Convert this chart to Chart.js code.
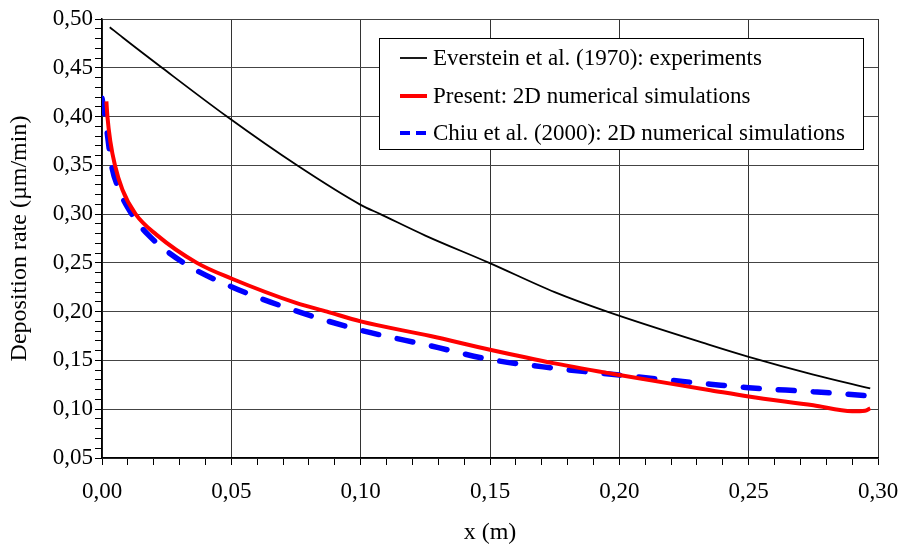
<!DOCTYPE html>
<html>
<head>
<meta charset="utf-8">
<script src="https://cdn.jsdelivr.net/npm/chart.js@4/dist/chart.umd.min.js"></script>
<style>
  html, body { margin: 0; padding: 0; background: #fff; }
  #wrap { width: 903px; height: 547px; }
</style>
</head>
<body>
<div id="wrap"><canvas id="chart"></canvas></div>
<script>
// values
var xEverstein = [0.003, 0.008, 0.0232, 0.0483, 0.0754, 0.100, 0.1076, 0.125, 0.1497, 0.175, 0.1953, 0.2352, 0.250, 0.275, 0.297];
var yEverstein = [0.4916, 0.481, 0.450, 0.400, 0.350, 0.3095, 0.300, 0.278, 0.250, 0.220, 0.200, 0.1657, 0.1537, 0.1355, 0.1213];

var xPresent = [0.0017, 0.0021, 0.0032, 0.0050, 0.0079, 0.013, 0.021, 0.0367, 0.050, 0.075, 0.087, 0.100, 0.127, 0.150, 0.175, 0.200, 0.2352, 0.250, 0.275, 0.290, 0.295, 0.297];
var yPresent = [0.4156, 0.400, 0.375, 0.350, 0.325, 0.300, 0.279, 0.250, 0.234, 0.209, 0.200, 0.190, 0.175, 0.161, 0.147, 0.135, 0.1195, 0.113, 0.104, 0.098, 0.0985, 0.101];

var xChiu = [0.000, 0.0012, 0.0024, 0.0037, 0.0066, 0.0115, 0.0179, 0.0316, 0.050, 0.077, 0.100, 0.127, 0.150, 0.175, 0.200, 0.2352, 0.250, 0.275, 0.297];
var yChiu = [0.4187, 0.400, 0.375, 0.350, 0.325, 0.300, 0.2787, 0.250, 0.2256, 0.199, 0.181, 0.165, 0.151, 0.142, 0.135, 0.1257, 0.122, 0.118, 0.1136];

var xTickLabels = ['0,00', '0,05', '0,10', '0,15', '0,20', '0,25', '0,30'];
var yTickLabels = ['0,05', '0,10', '0,15', '0,20', '0,25', '0,30', '0,35', '0,40', '0,45', '0,50'];

var seriesNames = ['Everstein et al. (1970): experiments', 'Present: 2D numerical simulations', 'Chiu et al. (2000): 2D numerical simulations'];

function pts(xs, ys) {
  return xs.map(function (x, i) { return { x: x, y: ys[i] }; });
}

var serif = "'Liberation Serif', 'Times New Roman', serif";

// legend box drawn inside the plot, like the original
var boxLegend = {
  id: 'boxLegend',
  afterDraw: function (chart) {
    var ctx = chart.ctx;
    var x0 = 379, y0 = 38, w = 484, h = 111;
    ctx.save();
    ctx.fillStyle = '#fff';
    ctx.fillRect(x0, y0, w, h);
    ctx.strokeStyle = '#000';
    ctx.lineWidth = 1;
    ctx.strokeRect(x0 + 0.5, y0 + 0.5, w, h);
    var rows = [58, 96, 133];
    chart.data.datasets.forEach(function (ds, i) {
      ctx.beginPath();
      ctx.strokeStyle = ds.borderColor;
      ctx.lineWidth = ds.borderDash ? 4 : ds.borderWidth;
      ctx.lineCap = 'butt';
      ctx.setLineDash(ds.borderDash ? [10, 6] : []);
      ctx.moveTo(400, rows[i]);
      ctx.lineTo(427, rows[i]);
      ctx.stroke();
      ctx.setLineDash([]);
      ctx.fillStyle = '#000';
      ctx.font = '23px ' + serif;
      ctx.textBaseline = 'middle';
      ctx.fillText(ds.label, 433, rows[i] + 1);
    });
    ctx.restore();
  }
};

new Chart(document.getElementById('chart'), {
  type: 'line',
  data: {
    datasets: [
      {
        label: seriesNames[0],
        data: pts(xEverstein, yEverstein),
        borderColor: '#000',
        borderWidth: 1.8,
        pointRadius: 0,
        cubicInterpolationMode: 'monotone'
      },
      {
        label: seriesNames[1],
        data: pts(xPresent, yPresent),
        borderColor: '#ff0000',
        borderWidth: 4,
        pointRadius: 0,
        cubicInterpolationMode: 'monotone'
      },
      {
        label: seriesNames[2],
        data: pts(xChiu, yChiu),
        borderColor: '#0000ff',
        borderWidth: 5.5,
        borderDash: [16, 19],
        borderCapStyle: 'round',
        pointRadius: 0,
        cubicInterpolationMode: 'monotone'
      }
    ]
  },
  options: {
    responsive: true,
    maintainAspectRatio: false,
    animation: false,
    layout: { padding: { top: 19, right: 25, left: 0, bottom: 0 } },
    plugins: {
      legend: { display: false },
      tooltip: { enabled: false }
    },
    scales: {
      x: {
        type: 'linear',
        min: 0,
        max: 0.30,
        afterFit: function (s) { s.height = 89; s.paddingLeft = 0; s.paddingRight = 0; },
        ticks: {
          stepSize: 0.01,
          autoSkip: false,
          maxRotation: 0,
          padding: 13,
          color: '#000',
          font: { family: serif, size: 23 },
          callback: function (v, i) { return i % 5 === 0 ? xTickLabels[i / 5] : ''; }
        },
        grid: {
          color: function (c) { return c.index % 5 === 0 ? '#333' : 'rgba(0,0,0,0)'; },
          tickColor: '#000',
          tickLength: 7,
          lineWidth: 1
        },
        border: { color: '#000', width: 1.5 },
        title: {
          display: true,
          text: 'x (m)',
          color: '#000',
          font: { family: serif, size: 24 },
          padding: { top: 0, bottom: 0 }
        }
      },
      y: {
        min: 0.05,
        max: 0.50,
        afterFit: function (s) { s.width = 102; s.paddingTop = 0; s.paddingBottom = 0; },
        ticks: {
          stepSize: 0.01,
          autoSkip: false,
          padding: 2,
          color: '#000',
          font: { family: serif, size: 23 },
          callback: function (v, i) { return i % 5 === 0 ? yTickLabels[i / 5] : ''; }
        },
        grid: {
          color: function (c) { return c.index % 5 === 0 ? '#444' : 'rgba(0,0,0,0)'; },
          tickColor: '#000',
          tickLength: 7,
          lineWidth: 1
        },
        border: { color: '#000', width: 1.5 },
        title: {
          display: true,
          text: 'Deposition rate (µm/min)',
          color: '#000',
          font: { family: serif, size: 24 },
          padding: { top: 5, bottom: 0 }
        }
      }
    }
  },
  plugins: [boxLegend]
});
</script>
</body>
</html>
